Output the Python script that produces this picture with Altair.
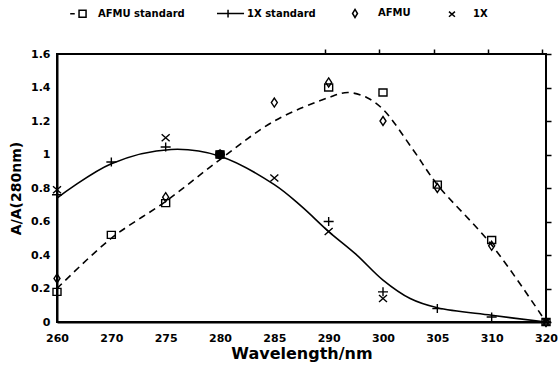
import altair as alt
import pandas as pd

# ---------------- data ----------------
wl_labels = ["260", "270", "275", "280", "285", "290", "300", "305", "310", "320"]
series_names = ["AFMU standard", "1X standard", "AFMU", "1X"]

# measured points (x = category index on the equally spaced wavelength axis)
afmu_std_idx = [0, 1, 2, 3, 5, 6, 7, 8, 9]
afmu_std_val = [0.18, 0.52, 0.71, 1.0, 1.40, 1.37, 0.82, 0.49, 0.0]

x1_std_idx = [0, 1, 2, 3, 5, 6, 7, 8, 9]
x1_std_val = [0.76, 0.955, 1.045, 1.0, 0.60, 0.18, 0.08, 0.03, 0.0]

afmu_idx = [0, 2, 3, 4, 5, 6, 7, 8, 9]
afmu_val = [0.26, 0.745, 1.0, 1.31, 1.43, 1.20, 0.80, 0.455, 0.0]

x1_idx = [0, 2, 3, 4, 5, 6, 9]
x1_val = [0.79, 1.10, 1.0, 0.86, 0.54, 0.14, 0.0]

# fitted curves
solid_idx = [0, 1, 2.1, 3, 4, 4.5, 5, 5.5, 6, 6.5, 7, 8, 9]
solid_val = [0.74, 0.945, 1.03, 0.99, 0.82, 0.69, 0.54, 0.405, 0.25, 0.14, 0.085, 0.04, 0.0]

dash_idx = [0, 1, 2, 3, 4, 5, 5.35, 5.7, 6, 6.55, 7, 8, 9]
dash_val = [0.20, 0.50, 0.72, 0.97, 1.2, 1.34, 1.37, 1.34, 1.27, 1.03, 0.82, 0.46, 0.0]

# normalisation point (280 nm = 1)
norm_idx = [3]
norm_val = [1.0]

y_tick_values = [0, 0.2, 0.4, 0.6, 0.8, 1.0, 1.2, 1.4, 1.6]

# ---------------- tables ----------------
rows = []
for name, xs, ys in [
    ("AFMU standard", afmu_std_idx, afmu_std_val),
    ("1X standard", x1_std_idx, x1_std_val),
    ("AFMU", afmu_idx, afmu_val),
    ("1X", x1_idx, x1_val),
]:
    for xv, yv in zip(xs, ys):
        rows.append({"idx": xv, "val": yv, "series": name})
pts = pd.DataFrame(rows)
solid = pd.DataFrame({"idx": solid_idx, "val": solid_val})
dashed = pd.DataFrame({"idx": dash_idx, "val": dash_val})
dot = pd.DataFrame({"idx": norm_idx, "val": norm_val})

W, H = 489, 268
FONT = "DejaVu Sans"

label_expr = "[" + ",".join("'%s'" % s for s in wl_labels) + "][datum.value]"

xscale = alt.Scale(domain=[0, 9], nice=False, zero=False)
yscale = alt.Scale(domain=[0, 1.6], nice=False, zero=False)

x_main = alt.Axis(values=list(range(10)), labelExpr=label_expr, title="Wavelength/nm",
                  ticks=False, grid=False, domain=True, domainColor="black", domainWidth=2,
                  labelFont=FONT, labelFontSize=11, labelFontWeight="bold", labelColor="black",
                  labelPadding=10, labelFlush=False, labelOverlap=False,
                  titleFont=FONT, titleFontSize=16, titleFontWeight="bold", titleColor="black",
                  titlePadding=2)
x_tick_axis = alt.Axis(orient="top", position=H, values=list(range(10)), labels=False,
                       title=None, domain=False, grid=False, ticks=True, tickSize=5,
                       tickWidth=1.5, tickColor="black")
y_main = alt.Axis(values=y_tick_values, format="~g", title="A/A(280nm)", ticks=False,
                  grid=False, domain=True, domainColor="black", domainWidth=2,
                  labelFont=FONT, labelFontSize=11, labelFontWeight="bold", labelColor="black",
                  labelPadding=7, labelFlush=False, labelOverlap=False,
                  titleFont=FONT, titleFontSize=14, titleFontWeight="bold", titleColor="black",
                  titlePadding=7)
y_tick_axis = alt.Axis(orient="right", position=0, values=y_tick_values, labels=False,
                       title=None, domain=False, grid=False, ticks=True, tickSize=5,
                       tickWidth=1.5, tickColor="black")

plot_shapes = [
    "M-0.8,-0.7L0.8,-0.7L0.8,0.7L-0.8,0.7Z",
    "M-1,0L1,0M0,-0.9L0,0.9",
    "M0,-0.9L0.6,0L0,0.9L-0.6,0Z",
    "M-0.8,-0.7L0.8,0.7M-0.8,0.7L0.8,-0.7",
]
legend_shapes = [
    "M-0.6,0L-0.25,0M0.08,-0.27L0.62,-0.27L0.62,0.27L0.08,0.27Z",
    "M-0.77,0L1.31,0M0.08,-0.3L0.08,0.3",
    "M-0.23,-0.31L-0.04,0L-0.23,0.31L-0.42,0Z",
    "M-0.31,-0.2L0.15,0.2M-0.31,0.2L0.15,-0.2",
]

solid_layer = alt.Chart(solid).mark_line(
    interpolate="catmull-rom", color="black", strokeWidth=1.6
).encode(
    x=alt.X("idx:Q", scale=xscale, axis=x_main),
    y=alt.Y("val:Q", scale=yscale, axis=y_main),
)

dashed_layer = alt.Chart(dashed).mark_line(
    interpolate="catmull-rom", color="black", strokeWidth=1.6, strokeDash=[7, 5]
).encode(
    x=alt.X("idx:Q", scale=xscale, axis=x_tick_axis),
    y=alt.Y("val:Q", scale=yscale, axis=y_tick_axis),
)

points_layer = alt.Chart(pts).mark_point(
    filled=False, color="black", strokeWidth=1.4, opacity=1, size=100
).encode(
    x=alt.X("idx:Q", scale=xscale, axis=None),
    y=alt.Y("val:Q", scale=yscale, axis=None),
    shape=alt.Shape("series:N", scale=alt.Scale(domain=series_names, range=plot_shapes),
                    legend=None),
)

dot_layer = alt.Chart(dot).mark_circle(size=95, color="black", opacity=1).encode(
    x=alt.X("idx:Q", scale=xscale, axis=None),
    y=alt.Y("val:Q", scale=yscale, axis=None),
)

legend_layer = alt.Chart(pts).transform_filter("datum.val < -1").mark_point(
    filled=False, color="black", strokeWidth=1.5, opacity=1
).encode(
    shape=alt.Shape(
        "series:N",
        scale=alt.Scale(domain=series_names, range=legend_shapes),
        legend=alt.Legend(
            title=None, orient="none", legendX=7, legendY=-55, direction="horizontal",
            columns=4, columnPadding=28, symbolSize=676, symbolStrokeWidth=1.5,
            symbolStrokeColor="black", symbolFillColor="transparent", symbolOpacity=1,
            labelFont=FONT, labelFontSize=10, labelFontWeight="bold", labelColor="black",
            labelOffset=6, padding=0,
        ),
    ),
)

chart = alt.layer(
    solid_layer, dashed_layer, points_layer, dot_layer, legend_layer
).resolve_scale(
    shape="independent"
).resolve_axis(
    x="independent", y="independent"
).properties(
    width=W, height=H,
    padding={"left": 57, "top": 54, "right": 14, "bottom": 45},
    autosize=alt.AutoSizeParams(type="none"),
    background="white",
).configure_view(
    stroke="black", strokeWidth=2
)

chart.save("out.html", embed_options={"renderer": "svg", "actions": False})
